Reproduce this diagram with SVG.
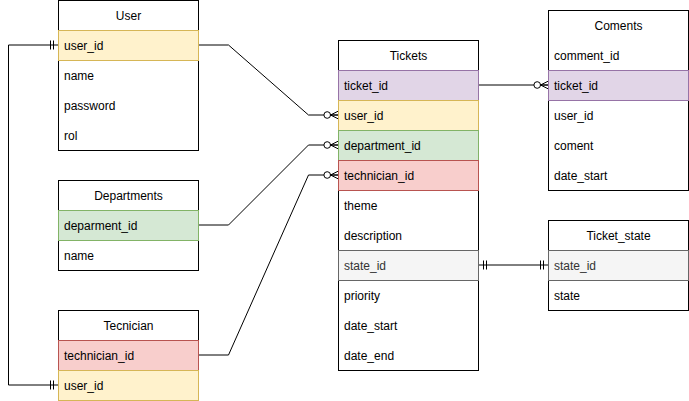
<svg xmlns="http://www.w3.org/2000/svg" width="689" height="401" viewBox="0 0 689 401">
<style>
text{font-family:"Liberation Sans",Arial,sans-serif;font-size:12px;fill:#000}
.h{text-anchor:middle}
.box{fill:#fff;stroke:#000;stroke-width:1}
.y{fill:#fff2cc;stroke:#d6b656}
.p{fill:#e1d5e7;stroke:#9673a6}
.g{fill:#d5e8d4;stroke:#82b366}
.r{fill:#f8cecc;stroke:#b85450}
.s{fill:#f5f5f5;stroke:#666666}
.gt{fill:#333}
.c{fill:none;stroke:#000;stroke-width:1}
</style>
<defs>
<marker id="zm" markerUnits="userSpaceOnUse" viewBox="-14 -6 16 12" markerWidth="16" markerHeight="12" refX="0" refY="0" orient="auto-start-reverse" overflow="visible">
<circle cx="-11.3" cy="0" r="3.3" fill="#fff" stroke="#000" stroke-width="1"/>
<path d="M-8 0H0M-8 0L0 -4M-8 0L0 4" fill="none" stroke="#000" stroke-width="1"/>
</marker>
<marker id="mo" markerUnits="userSpaceOnUse" viewBox="-14 -6 16 12" markerWidth="16" markerHeight="12" refX="0" refY="0" orient="auto-start-reverse" overflow="visible">
<path d="M-8 -4.5V4.5M-5 -4.5V4.5" fill="none" stroke="#000" stroke-width="1"/>
</marker>
</defs>
<g id="connectors">
<path class="c" d="M198.5 45H228.5L308.5 115H338.5" marker-end="url(#zm)"/>
<path class="c" d="M198.5 225H228.5L308.5 145H338.5" marker-end="url(#zm)"/>
<path class="c" d="M198.5 355H228.5L308.5 175H338.5" marker-end="url(#zm)"/>
<path class="c" d="M478.5 85H548.5" marker-end="url(#zm)"/>
<path class="c" d="M478.5 265H548.5" marker-start="url(#mo)" marker-end="url(#mo)"/>
<path class="c" d="M58.5 45H8.5V385H58.5" marker-start="url(#mo)" marker-end="url(#mo)"/>
</g>
<g id="User">
<rect class="box" x="58.5" y="0.5" width="140" height="150"/>
<text class="h" x="128.5" y="19.5">User</text>
<rect class="y" x="58.5" y="30.5" width="140" height="30"/>
<text x="64" y="49.5">user_id</text>
<text x="64" y="79.5">name</text>
<text x="64" y="109.5">password</text>
<text x="64" y="139.5">rol</text>
</g>
<g id="Departments">
<rect class="box" x="58.5" y="180.5" width="140" height="90"/>
<text class="h" x="128.5" y="199.5">Departments</text>
<rect class="g" x="58.5" y="210.5" width="140" height="30"/>
<text x="64" y="229.5">deparment_id</text>
<text x="64" y="259.5">name</text>
</g>
<g id="Tecnician">
<rect class="box" x="58.5" y="310.5" width="140" height="90"/>
<text class="h" x="128.5" y="329.5">Tecnician</text>
<rect class="r" x="58.5" y="340.5" width="140" height="30"/>
<text x="64" y="359.5">technician_id</text>
<rect class="y" x="58.5" y="370.5" width="140" height="30"/>
<text x="64" y="389.5">user_id</text>
</g>
<g id="Tickets">
<rect class="box" x="338.5" y="40.5" width="140" height="330"/>
<text class="h" x="408.5" y="59.5">Tickets</text>
<rect class="p" x="338.5" y="70.5" width="140" height="30"/>
<text x="344" y="89.5">ticket_id</text>
<rect class="y" x="338.5" y="100.5" width="140" height="30"/>
<text x="344" y="119.5">user_id</text>
<rect class="g" x="338.5" y="130.5" width="140" height="30"/>
<text x="344" y="149.5">department_id</text>
<rect class="r" x="338.5" y="160.5" width="140" height="30"/>
<text x="344" y="179.5">technician_id</text>
<text x="344" y="209.5">theme</text>
<text x="344" y="239.5">description</text>
<rect class="s" x="338.5" y="250.5" width="140" height="30"/>
<text class="gt" x="344" y="269.5">state_id</text>
<text x="344" y="299.5">priority</text>
<text x="344" y="329.5">date_start</text>
<text x="344" y="359.5">date_end</text>
</g>
<g id="Coments">
<rect class="box" x="548.5" y="10.5" width="140" height="180"/>
<text class="h" x="618.5" y="29.5">Coments</text>
<text x="554" y="59.5">comment_id</text>
<rect class="p" x="548.5" y="70.5" width="140" height="30"/>
<text x="554" y="89.5">ticket_id</text>
<text x="554" y="119.5">user_id</text>
<text x="554" y="149.5">coment</text>
<text x="554" y="179.5">date_start</text>
</g>
<g id="Ticket_state">
<rect class="box" x="548.5" y="220.5" width="140" height="90"/>
<text class="h" x="618.5" y="239.5">Ticket_state</text>
<rect class="s" x="548.5" y="250.5" width="140" height="30"/>
<text class="gt" x="554" y="269.5">state_id</text>
<text x="554" y="299.5">state</text>
</g>
</svg>
